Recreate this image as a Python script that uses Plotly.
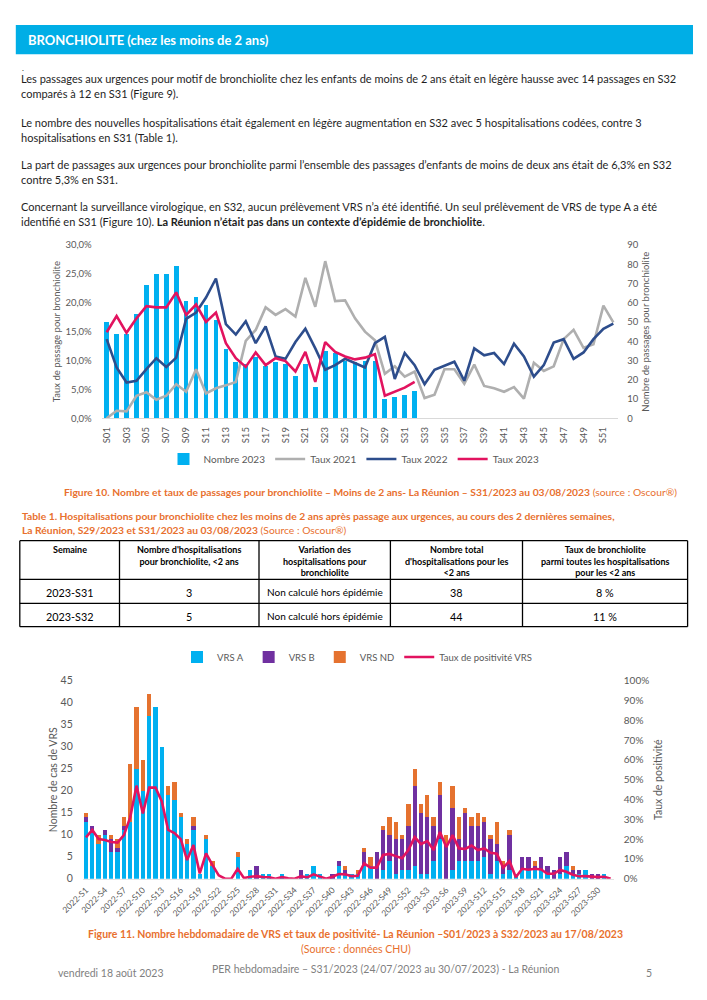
import plotly.graph_objects as go

W, H = 707, 1000


def px_x(v):
    return v / W


def px_y(v):
    return 1 - v / H


FONT = "Lato, 'Open Sans', sans-serif"
CYAN = "#00B0F0"
GRAY = "#AFAFAF"
NAVY = "#2D4D8C"
RED = "#E2135F"
PURPLE = "#7030A0"
ORANGE = "#E5722F"
CAPTION = "#E8702E"
TEXT = "#1E1E1E"
AXIS_TXT = "#595959"

# ---------------- Figure 10 data ----------------
weeks_top = ["S%02d" % w for w in range(1, 53)]
top_ticks = weeks_top[::2]
pct_ticks = [0, 5, 10, 15, 20, 25, 30]
pct_labels = [("%.1f%%" % v).replace(".", ",") for v in pct_ticks]
count_ticks = list(range(0, 91, 10))
nombre_2023 = [50, 44, 44, 54, 69, 75, 75, 79, 61, 63, 59, 51, 36, 29, 28, 32,
               27, 29, 28, 22, 28, 16, 35, 34, 30, 29, 30, 30, 10, 11, 12, 14]
taux_2023 = [14.9, 17.7, 14.8, 17.3, 19.4, 19.2, 19.2, 21.8, 17.9, 19.7, 16.7, 18.3,
             13.0, 10.4, 8.9, 11.4, 9.2, 10.4, 9.9, 8.1, 11.5, 6.3, 13.2, 11.5,
             10.7, 10.2, 10.5, 11.1, 3.9, 4.6, 5.3, 6.3]
taux_2022 = [13.7, 8.8, 6.2, 6.5, 8.5, 10.4, 8.9, 10.5, 17.2, 18.3, 20.9, 24.2,
             16.3, 14.5, 16.8, 13.0, 15.9, 10.7, 10.3, 13.2, 15.5, 12.1, 8.4, 9.2,
             10.3, 9.5, 8.8, 13.0, 14.1, 6.8, 11.3, 9.2, 5.9, 8.4, 9.1, 9.8,
             6.5, 12.1, 10.9, 11.3, 9.4, 12.9, 10.7, 7.2, 9.2, 13.1, 13.7, 10.3,
             11.4, 13.7, 15.5, 16.4]
taux_2021 = [0.0, 1.3, 1.2, 3.9, 4.5, 3.2, 3.9, 5.9, 4.6, 8.5, 4.3, 5.2,
             5.7, 6.3, 13.4, 15.3, 19.2, 17.9, 18.9, 17.6, 24.3, 19.3, 27.2, 20.3,
             20.4, 17.3, 15.0, 13.5, 7.7, 9.0, 7.2, 8.1, 3.5, 4.1, 8.5, 8.5,
             6.0, 9.3, 5.6, 5.2, 4.6, 5.4, 3.4, 9.6, 8.2, 9.0, 13.7, 15.3,
             12.2, 12.8, 19.5, 16.6]

# ---------------- Table 1 data ----------------
table_header = ["Semaine",
                "Nombre d'hospitalisations<br>pour bronchiolite, &lt;2 ans",
                "Variation des<br>hospitalisations pour<br>bronchiolite",
                "Nombre total<br>d'hospitalisations pour les<br>&lt;2 ans",
                "Taux de bronchiolite<br>parmi toutes les hospitalisations<br>pour les &lt;2 ans"]
semaines = ["2023-S31", "2023-S32"]
nb_hosp = [3, 5]
variation = ["Non calculé hors épidémie", "Non calculé hors épidémie"]
total_hosp = [38, 44]
taux_bronchio = ["8 %", "11 %"]
table_columns = [semaines, nb_hosp, variation, total_hosp, taux_bronchio]

# ---------------- Figure 11 data ----------------
weeks_vrs = ["2022-S%d" % w for w in range(1, 53)] + ["2023-S%d" % w for w in range(1, 33)]
vrs_ticks = weeks_vrs[::3]
cas_ticks = list(range(0, 46, 5))
posit_ticks = list(range(0, 101, 10))
posit_labels = ["%d%%" % v for v in posit_ticks]
vrs_a = [13, 11, 8, 10, 6, 6, 11, 13, 25, 20, 37, 39, 30, 19, 18, 14, 8, 11, 1, 9,
         3, 0, 0, 0, 5, 0, 2, 0, 1, 1, 0, 1, 0, 0, 0, 1, 3, 1, 0, 0,
         3, 1, 1, 1, 3, 3, 0, 2, 4, 1, 2, 2,
         3, 1, 1, 4, 9, 0, 2, 4, 4, 4, 4, 5, 1, 4, 1, 2, 1, 2, 2, 2,
         2, 1, 0, 1, 3, 1, 1, 2, 0, 0, 1, 0]
vrs_b = [1, 1, 0, 1, 3, 1, 1, 0, 0, 0, 0, 0, 0, 0, 0, 0, 0, 1, 0, 0,
         0, 0, 0, 0, 0, 0, 0, 3, 0, 0, 0, 0, 0, 0, 2, 0, 0, 0, 0, 1,
         1, 1, 0, 0, 3, 0, 6, 9, 6, 8, 7, 10,
         18, 14, 13, 8, 10, 8, 14, 5, 11, 8, 8, 8, 8, 4, 2, 8, 0, 3, 3, 1,
         3, 2, 2, 4, 3, 1, 1, 0, 1, 1, 0, 0]
vrs_nd = [1, 0, 2, 0, 1, 2, 2, 13, 14, 7, 5, 0, 0, 2, 4, 1, 1, 2, 0, 1,
          1, 0, 0, 0, 1, 0, 0, 0, 0, 0, 0, 0, 0, 0, 0, 0, 0, 0, 0, 0,
          0, 1, 0, 1, 1, 2, 0, 1, 4, 4, 1, 5,
          4, 2, 5, 2, 3, 2, 5, 5, 1, 2, 3, 1, 1, 5, 1, 1, 0, 0, 0, 1,
          0, 0, 0, 0, 0, 1, 0, 0, 0, 0, 0, 0]
taux_positivite = [20.9, 24.6, 20.0, 19.5, 18.5, 18.2, 22.0, 31.0, 47.0, 33.0,
                   46.0, 46.0, 39.0, 24.6, 23.0, 20.0, 9.4, 17.0, 2.7, 12.8,
                   7.0, 1.7, 0.0, 0.0, 5.0, 0.3, 1.0, 1.3, 0.8, 0.7,
                   0.0, 0.8, 0.2, 0.0, 1.2, 0.7, 2.2, 1.2, 0.0, 1.0,
                   2.4, 2.2, 1.3, 1.5, 7.7, 5.6, 5.6, 12.0, 12.5, 11.4,
                   10.3, 14.5, 21.0, 17.5, 19.0, 14.5, 23.6, 16.0, 22.0, 15.3,
                   15.0, 16.7, 14.5, 15.3, 13.1, 12.6, 5.6, 8.9, 0.7, 5.0,
                   4.5, 5.0, 4.7, 2.5, 2.5, 4.4, 3.5, 2.0, 1.2, 1.3,
                   1.0, 0.8, 1.0, 0.0]

fig = go.Figure()

# Figure 10 traces
fig.add_trace(go.Bar(x=weeks_top[:len(nombre_2023)], y=nombre_2023, name="Nombre 2023",
                     marker=dict(color=CYAN, line=dict(width=0)), width=0.47,
                     xaxis="x", yaxis="y", legend="legend"))
for name, vals, col in [("Taux 2021", taux_2021, GRAY),
                        ("Taux 2022", taux_2022, NAVY),
                        ("Taux 2023", taux_2023, RED)]:
    fig.add_trace(go.Scatter(x=weeks_top[:len(vals)], y=vals, name=name, mode="lines",
                             line=dict(color=col, width=2.6), xaxis="x", yaxis="y2",
                             legend="legend"))

# Figure 11 traces
for name, vals, col in [("VRS A", vrs_a, CYAN), ("VRS B", vrs_b, PURPLE), ("VRS ND", vrs_nd, ORANGE)]:
    fig.add_trace(go.Bar(x=weeks_vrs, y=vals, name=name, marker=dict(color=col, line=dict(width=0)),
                         width=0.68, xaxis="x2", yaxis="y3", legend="legend2"))
fig.add_trace(go.Scatter(x=weeks_vrs, y=taux_positivite, name="Taux de positivité VRS", mode="lines",
                         line=dict(color=RED, width=2.6), xaxis="x2", yaxis="y4", legend="legend2"))

tick_font = dict(family=FONT, size=9.5, color=AXIS_TXT)
title_font = dict(family=FONT, size=9.5, color=AXIS_TXT)

fig.update_layout(
    width=W, height=H, autosize=False,
    margin=dict(l=0, r=0, t=0, b=0, autoexpand=False),
    paper_bgcolor="white", plot_bgcolor="white",
    font=dict(family=FONT, color=TEXT),
    separators=", ",
    barmode="stack",
    xaxis=dict(domain=[px_x(101.7), px_x(618.3)], anchor="y", type="category", automargin=False,
               categoryorder="array", categoryarray=weeks_top, range=[-0.5, 51.5],
               tickmode="array", tickvals=top_ticks, ticktext=top_ticks, tickangle=-90,
               tickfont=dict(family=FONT, size=9.5, color=AXIS_TXT), showgrid=False,
               showline=True, linecolor="#D9D9D9", linewidth=1, ticks="", ticklabelstandoff=4),
    yaxis=dict(domain=[px_y(418.3), px_y(245)], anchor="x", side="right", range=[0, 90],
               automargin=False, tickmode="array", tickvals=count_ticks,
               ticktext=[str(v) for v in count_ticks], showgrid=False, zeroline=False,
               tickfont=tick_font, ticklabelstandoff=8,
               title=dict(text="Nombre de passages pour bronchiolite", font=title_font, standoff=4)),
    yaxis2=dict(overlaying="y", anchor="x", side="left", range=[0, 30], automargin=False,
                tickmode="array", tickvals=pct_ticks, ticktext=pct_labels,
                showgrid=False, zeroline=False, tickfont=tick_font,
                ticklabelstandoff=9,
                title=dict(text="Taux de passage pour bronchiolite", font=title_font, standoff=3)),
    xaxis2=dict(domain=[px_x(82.8), px_x(613.8)], anchor="y3", type="category", automargin=False,
                categoryorder="array", categoryarray=weeks_vrs, range=[-0.5, 83.5],
                tickmode="array", tickvals=vrs_ticks, ticktext=vrs_ticks, tickangle=-45,
                tickfont=dict(family=FONT, size=8.5, color=AXIS_TXT), showgrid=False,
                showline=True, linecolor="#E3E3E3", linewidth=1, ticks="", ticklabelstandoff=2),
    yaxis3=dict(domain=[px_y(878.7), px_y(680.7)], anchor="x2", side="left", range=[0, 45],
                automargin=False, tickmode="array", tickvals=cas_ticks,
                ticktext=[str(v) for v in cas_ticks], showgrid=False, zeroline=False,
                tickfont=dict(family=FONT, size=10.5, color=AXIS_TXT), ticklabelstandoff=9,
                title=dict(text="Nombre de cas de VRS", font=dict(family=FONT, size=10.5, color=AXIS_TXT),
                           standoff=0)),
    yaxis4=dict(overlaying="y3", anchor="x2", side="right", range=[0, 100], automargin=False,
                tickmode="array", tickvals=posit_ticks, ticktext=posit_labels,
                showgrid=False, zeroline=False,
                tickfont=dict(family=FONT, size=10, color=AXIS_TXT), ticklabelstandoff=9,
                title=dict(text="Taux de positivité", font=dict(family=FONT, size=10.5, color=AXIS_TXT),
                           standoff=6)),
    legend=dict(orientation="h", x=px_x(354), xanchor="center", y=px_y(459), yanchor="middle",
                font=dict(family=FONT, size=10, color=AXIS_TXT), bgcolor="rgba(0,0,0,0)",
                itemwidth=30, traceorder="normal"),
    legend2=dict(orientation="h", x=px_x(357), xanchor="center", y=px_y(657), yanchor="middle",
                 font=dict(family=FONT, size=9.5, color=AXIS_TXT), bgcolor="rgba(0,0,0,0)",
                 itemwidth=30, traceorder="normal"),
)

# Header band
fig.add_shape(type="rect", xref="paper", yref="paper",
              x0=px_x(15.8), x1=px_x(693), y0=px_y(54.3), y1=px_y(25),
              fillcolor="#00AEE6", line=dict(width=0), layer="below")


def note(text, x, y, size=11, color=TEXT, anchor="left", bold=False, yanchor="middle"):
    fig.add_annotation(text=("<b>%s</b>" % text) if bold else text,
                       x=px_x(x), y=px_y(y), xref="paper", yref="paper",
                       xanchor=anchor, yanchor=yanchor, showarrow=False, align=anchor,
                       font=dict(family=FONT, size=size, color=color))


note("BRONCHIOLITE (chez les moins de 2 ans)", 25.7, 40, size=13, color="white", bold=True)
note(".", 19.5, 68, size=8)

body = [
    (79, "Les passages aux urgences pour motif de bronchiolite chez les enfants de moins de 2 ans était en légère hausse avec 14 passages en S32"),
    (94, "comparés à 12 en S31 (Figure 9)."),
    (122, "Le nombre des nouvelles hospitalisations était également en légère augmentation en S32 avec 5 hospitalisations codées, contre 3"),
    (137, "hospitalisations en S31 (Table 1)."),
    (164, "La part de passages aux urgences pour bronchiolite parmi l’ensemble des passages d’enfants de moins de deux ans était de 6,3% en S32"),
    (179, "contre 5,3% en S31."),
    (207, "Concernant la surveillance virologique, en S32, aucun prélèvement VRS n’a été identifié. Un seul prélèvement de VRS de type A a été"),
    (222, "identifié en S31 (Figure 10). <b>La Réunion n’était pas dans un contexte d’épidémie de bronchiolite</b>."),
]
for y, t in body:
    note(t, 19, y, size=11)

note("<b>Figure 10. Nombre et taux de passages pour bronchiolite – Moins de 2 ans- La Réunion – S31/2023 au 03/08/2023</b> (source : Oscour®)",
     370, 492, size=10.3, color=CAPTION, anchor="center")
note("<b>Table 1. Hospitalisations pour bronchiolite chez les moins de 2 ans après passage aux urgences, au cours des 2 dernières semaines,</b>",
     20.3, 516, size=10.3, color=CAPTION)
note("<b>La Réunion, S29/2023 et S31/2023 au 03/08/2023</b> (Source : Oscour®)",
     20.3, 530, size=10.3, color=CAPTION)

# Table 1 (grid + cell texts from the table lists)
col_edges = [19.8, 119.5, 259.0, 390.4, 522.5, 687.6]
row_edges = [540.7, 579.3, 603.3, 626.7]
for xe in col_edges:
    fig.add_shape(type="line", xref="paper", yref="paper", x0=px_x(xe), x1=px_x(xe),
                  y0=px_y(row_edges[0]), y1=px_y(row_edges[-1]),
                  line=dict(color="black", width=1.3))
for ye in row_edges:
    fig.add_shape(type="line", xref="paper", yref="paper", x0=px_x(col_edges[0]), x1=px_x(col_edges[-1]),
                  y0=px_y(ye), y1=px_y(ye), line=dict(color="black", width=1.3))
cell_sizes = [10.8, 10.8, 10, 10.8, 10.8]
for c, head in enumerate(table_header):
    xc = (col_edges[c] + col_edges[c + 1]) / 2
    note("<b>%s</b>" % head.replace("<br>", "</b><br><b>"), xc, row_edges[0] + 1.5, size=9,
         color="black", anchor="center", yanchor="top")
    for r, val in enumerate(table_columns[c]):
        yc = (row_edges[r + 1] + row_edges[r + 2]) / 2 + 1
        note(str(val), xc, yc, size=cell_sizes[c], color="black", anchor="center")

note("<b>Figure 11. Nombre hebdomadaire de VRS et taux de positivité- La Réunion –S01/2023 à S32/2023 au 17/08/2023</b>",
     355.5, 934, size=10.5, color=CAPTION, anchor="center")
note("(Source : données CHU)", 355.5, 949, size=10.5, color=CAPTION, anchor="center")

note("vendredi 18 août 2023", 56.4, 973, size=10.5, color="#7F7F7F")
note("PER hebdomadaire – S31/2023 (24/07/2023 au 30/07/2023) - La Réunion", 385.5, 969,
     size=10.5, color="#7F7F7F", anchor="center")
note("5", 649, 973, size=10.5, color="#7F7F7F", anchor="center")

fig.write_html("out.html", config={"displayModeBar": False},
               post_script="document.body.style.margin='0';")
